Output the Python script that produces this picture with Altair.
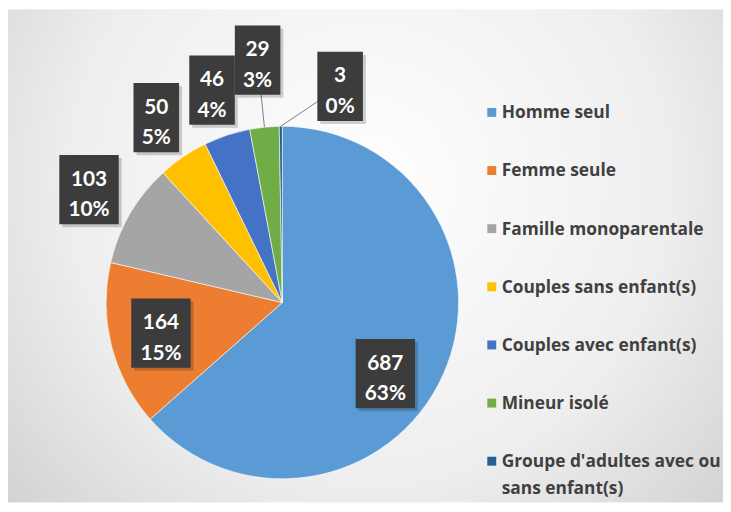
import altair as alt
import pandas as pd

categories = ["Homme seul", "Femme seule", "Famille monoparentale",
              "Couples sans enfant(s)", "Couples avec enfant(s)",
              "Mineur isolé", "Groupe d'adultes avec ou sans enfant(s)"]
legend_lines = ["Homme seul", "Femme seule", "Famille monoparentale",
                "Couples sans enfant(s)", "Couples avec enfant(s)",
                "Mineur isolé", "Groupe d'adultes avec ou\nsans enfant(s)"]
values = [687, 164, 103, 50, 46, 29, 3]
colors = ["#5B9BD5", "#ED7D31", "#A5A5A5", "#FFC000", "#4472C4", "#70AD47", "#255E91"]

df = pd.DataFrame({"category": categories, "value": values,
                   "legend_text": legend_lines, "ord": list(range(len(values)))})

W, H = 722, 497
CX, CY, R = 277, 295, 178
LEG_X, LEG_Y, LEG_STEP = 488.5, 103, 58.7

color_scale = alt.Scale(domain=categories, range=colors)

bg = alt.Chart(pd.DataFrame({"a": [0]})).mark_rect(
    fill=alt.Gradient(gradient="radial",
                      stops=[alt.GradientStop(offset=0, color="#ffffff"),
                             alt.GradientStop(offset=0.55, color="#eeeeee"),
                             alt.GradientStop(offset=1, color="#c9c9c9")],
                      x1=0.5, y1=0.4, r1=0, x2=0.5, y2=0.4, r2=0.75)
).encode(x=alt.value(-2), x2=alt.value(W + 10), y=alt.value(-1), y2=alt.value(H))

pie = alt.Chart(df).mark_arc(outerRadius=R, stroke="#ffffff", strokeWidth=0.6).encode(
    theta=alt.Theta("value:Q", stack=True),
    order=alt.Order("ord:Q"),
    color=alt.Color("category:N", sort=categories, scale=color_scale, legend=None),
    x=alt.value(CX), y=alt.value(CY),
)

base = alt.Chart(df).transform_joinaggregate(
    total="sum(value)"
).transform_window(
    cum="sum(value)", sort=[alt.SortField("ord")], frame=[None, 0]
).transform_calculate(
    share="datum.value / datum.total",
    a0="2 * PI * (datum.cum - datum.value) / datum.total",
    a1="2 * PI * datum.cum / datum.total",
    ly=f"{LEG_Y} + datum.ord * {LEG_STEP}",
).transform_calculate(
    mid="(datum.a0 + datum.a1) / 2",
).transform_calculate(
    ang="datum.share < 0.01 ? datum.mid + 0.27 : (datum.share > 0.5 ? datum.mid + 0.18 : datum.mid)",
    rad=(f"datum.share > 0.12 ? {R * 0.71} : "
         f"(datum.share < 0.03 && datum.share >= 0.01 ? {R + 68} : {R + 48})"),
    s1="toString(datum.value)",
    s2="toString(round(datum.share * 100)) + '%'",
).transform_calculate(
    px=f"{CX} + datum.rad * sin(datum.ang)",
    py=f"{CY} - datum.rad * cos(datum.ang)",
    ax=f"{CX} + {R} * sin(datum.mid)",
    ay=f"{CY} - {R} * cos(datum.mid)",
    bw="14 * max(length(datum.s1), length(datum.s2)) + 18",
    lbl="datum.s1 + '\\n' + datum.s2",
).transform_calculate(
    bx1="datum.px - datum.bw / 2",
    bx2="datum.px + datum.bw / 2",
    by1="datum.py - 35",
    by2="datum.py + 35",
    sx1="datum.px - datum.bw / 2 + 3",
    sx2="datum.px + datum.bw / 2 + 3",
    sy1="datum.py - 35 + 3",
    sy2="datum.py + 35 + 3",
)

leaders = base.transform_filter("datum.share < 0.03").mark_rule(
    color="#7f7f7f", strokeWidth=1
).encode(
    x=alt.X("ax:Q", scale=None), y=alt.Y("ay:Q", scale=None),
    x2="px:Q", y2="py:Q",
)

shadow = base.mark_rect(fill="#000000", opacity=0.18).encode(
    x=alt.X("sx1:Q", scale=None), x2="sx2:Q",
    y=alt.Y("sy1:Q", scale=None), y2="sy2:Q",
)

boxes = base.mark_rect(fill="#3c3c3c").encode(
    x=alt.X("bx1:Q", scale=None), x2="bx2:Q",
    y=alt.Y("by1:Q", scale=None), y2="by2:Q",
)

texts = base.mark_text(
    font="Lato", fontSize=21, fontWeight="bold", color="#ffffff",
    lineBreak="\n", lineHeight=31, align="center", baseline="middle", dy=-10
).encode(
    x=alt.X("px:Q", scale=None), y=alt.Y("py:Q", scale=None),
    text="lbl:N",
)

leg_sym = base.mark_square(size=81, opacity=1).encode(
    x=alt.value(LEG_X), y=alt.Y("ly:Q", scale=None),
    color=alt.Color("category:N", sort=categories, scale=color_scale, legend=None),
)

leg_txt = base.mark_text(
    font="Open Sans", fontSize=17.5, fontWeight="bold", color="#404040",
    lineBreak="\n", lineHeight=27, align="left", baseline="middle", dy=1
).encode(
    x=alt.value(LEG_X + 10), y=alt.Y("ly:Q", scale=None),
    text="legend_text:N",
)

chart = alt.layer(bg, pie, leaders, shadow, boxes, texts, leg_sym, leg_txt).properties(
    width=W, height=H, autosize="none", padding=0, background="#ffffff"
).configure_view(stroke=None)

chart.save("out.html", embed_options={"renderer": "svg", "actions": False})
